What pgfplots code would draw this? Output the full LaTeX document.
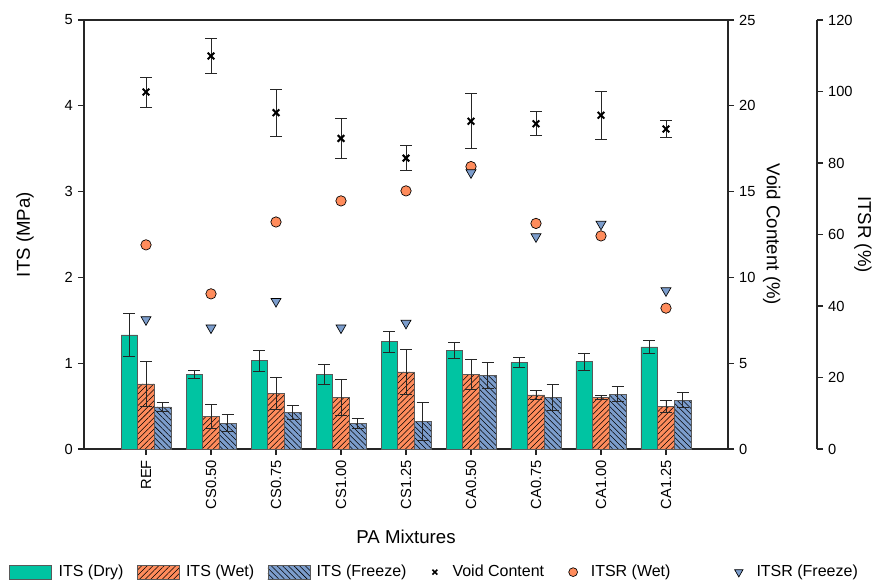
\documentclass[border=0pt]{standalone}
\usepackage{pgfplots}
\pgfplotsset{compat=1.18}
\usepackage{pgfplotstable}
\usepackage{fontspec}
\setmainfont{Liberation Sans}
\usetikzlibrary{patterns.meta}

\definecolor{cdry}{HTML}{00C4A2}
\definecolor{cwet}{HTML}{FF8C5C}
\definecolor{cfrz}{HTML}{7C9DCC}

\pgfplotstableread{
x dry dryerr wet weterr frz frzerr void voiderr rwet rfrz
0 1.33 0.25 0.76 0.26 0.49 0.05 20.80 0.87 57.1 36.2
1 0.87 0.05 0.38 0.14 0.30 0.10 22.90 1.00 43.4 33.9
2 1.03 0.12 0.65 0.19 0.43 0.08 19.60 1.37 63.5 41.3
3 0.87 0.12 0.60 0.21 0.30 0.06 18.10 1.15 69.4 33.9
4 1.25 0.12 0.90 0.26 0.32 0.22 16.95 0.74 72.2 35.2
5 1.15 0.09 0.87 0.18 0.86 0.15 19.10 1.60 79.0 77.3
6 1.01 0.06 0.63 0.05 0.60 0.15 18.95 0.70 63.1 59.4
7 1.02 0.10 0.60 0.025 0.64 0.085 19.45 1.40 59.6 62.9
8 1.19 0.08 0.50 0.07 0.57 0.085 18.65 0.52 39.4 44.3
}\data

\pgfplotsset{
  base/.style={scale only axis, width=483pt, height=321.75pt,
    xmin=-0.954, xmax=8.954, tick align=outside, major tick length=4.5pt,
    /pgf/number format/assume math mode=true,
    axis line style={line width=0.8pt, black!85},
    every tick/.style={black!85, line width=0.8pt},
    tick label style={font=\fontsize{11}{13}\selectfont},
    label style={font=\fontsize{14}{16}\selectfont}},
  ebar/.style={error bars/.cd, y dir=both, y explicit,
    error bar style={black!85, line width=0.6pt},
    error mark options={black!85, line width=0.6pt, mark size=4.5pt, rotate=90}},
  barleg/.style={legend image code/.code={\draw[##1] (0pt,-5.25pt) rectangle (31.5pt,5.25pt);}},
  xleg/.style={legend image code/.code={\path[draw=none] (0pt,0pt) (19.5pt,0pt);\draw[##1] plot coordinates {(11.25pt,0pt)};}},
  cleg/.style={legend image code/.code={\path[draw=none] (0pt,0pt) (20pt,0pt);\draw[##1] plot coordinates {(11.75pt,0pt)};}},
  tleg/.style={legend image code/.code={\path[draw=none] (0pt,0pt) (49.5pt,0pt);\draw[##1] plot coordinates {(41.25pt,0pt)};}},
  wetpat/.style={postaction={pattern={Lines[angle=45,distance=3pt,line width=0.4pt]}, pattern color=black}},
  frzpat/.style={postaction={pattern={Lines[angle=-45,distance=3pt,line width=0.4pt]}, pattern color=black}},
}

\begin{document}
\fontsize{11}{13}\selectfont
\begin{tikzpicture}[font=\fontsize{11}{13}\selectfont]
% ITS bars
\begin{axis}[base, ymin=0, ymax=5, ytick={0,1,...,5},
  xtick={0,...,8},
  xticklabels={REF,CS0.50,CS0.75,CS1.00,CS1.25,CA0.50,CA0.75,CA1.00,CA1.25},
  xtick pos=left, ytick pos=left,
  x tick label style={rotate=90, anchor=east},
  ybar=0pt, bar width=12.5pt,
  ylabel={ITS (MPa)}, xlabel={PA Mixtures},
  ylabel style={at={(axis description cs:-0.0916,0.5)}, anchor=center},
  xlabel style={at={(axis description cs:0.5,-0.205)}, anchor=center}]
\addplot[fill=cdry, draw=black!65, line width=0.4pt, ebar] table[x=x, y=dry, y error=dryerr] {\data};
\addplot[fill=cwet, draw=black!65, line width=0.4pt, wetpat, ebar]
  table[x=x, y=wet, y error=weterr] {\data};
\addplot[fill=cfrz, draw=black!65, line width=0.4pt, frzpat, ebar]
  table[x=x, y=frz, y error=frzerr] {\data};
\end{axis}
% Void content
\begin{axis}[base, ymin=0, ymax=25, ytick={0,5,...,25},
  axis x line=none, axis y line*=right, clip=false,
  ylabel={Void Content (\%)},
  ylabel style={at={(axis description cs:1.068,0.5)}, anchor=center, rotate=180}]
\addplot[only marks, mark=x, mark size=3.5pt, black, line width=1.5pt, ebar]
  table[x=x, y=void, y error=voiderr] {\data};
\end{axis}
% ITSR markers + legend
\begin{axis}[base, ymin=0, ymax=120, hide axis, clip=false,
  legend columns=6,
  legend style={draw=none, fill=none, at={(0.545,-0.287)}, anchor=center,
    font=\fontsize{12}{14}\selectfont,
    /tikz/every odd column/.append style={column sep=3pt},
    /tikz/every even column/.append style={column sep=8pt}}]
\addlegendimage{fill=cdry, draw=black!65, line width=0.4pt, barleg}
\addlegendimage{fill=cwet, draw=black!65, line width=0.4pt, wetpat, barleg}
\addlegendimage{fill=cfrz, draw=black!65, line width=0.4pt, frzpat, barleg}
\addlegendimage{only marks, mark=x, mark size=2.6pt, black, line width=1.1pt, xleg}
\addlegendimage{only marks, mark=*, mark size=3.3pt, mark options={fill=cwet, draw=black, line width=0.5pt}, cleg}
\addlegendimage{only marks, mark=triangle*, mark size=3.6pt, mark options={rotate=180, fill=cfrz, draw=black, line width=0.5pt}, tleg}
\legend{ITS (Dry), ITS (Wet), ITS (Freeze), Void Content, ITSR (Wet), ITSR (Freeze)}
\addplot[forget plot, only marks, mark=*, mark size=3.9pt, mark options={fill=cwet, draw=black, line width=0.5pt}]
  table[x=x, y=rwet] {\data};
\addplot[forget plot, only marks, mark=triangle*, mark size=4.3pt, mark options={rotate=180, fill=cfrz, draw=black, line width=0.5pt}]
  table[x=x, y=rfrz] {\data};
\end{axis}
% ITSR axis line
\begin{axis}[base, at={(66.75pt,0pt)}, ymin=0, ymax=120, ytick={0,20,...,120},
  axis x line=none, axis y line*=right,
  ylabel={ITSR (\%)},
  ylabel style={at={(axis description cs:1.0714,0.5)}, anchor=center, rotate=180}]
\end{axis}
\pgfresetboundingbox
\path (-63pt,-100.5pt) rectangle (594pt,336.75pt);
\end{tikzpicture}
\end{document}
